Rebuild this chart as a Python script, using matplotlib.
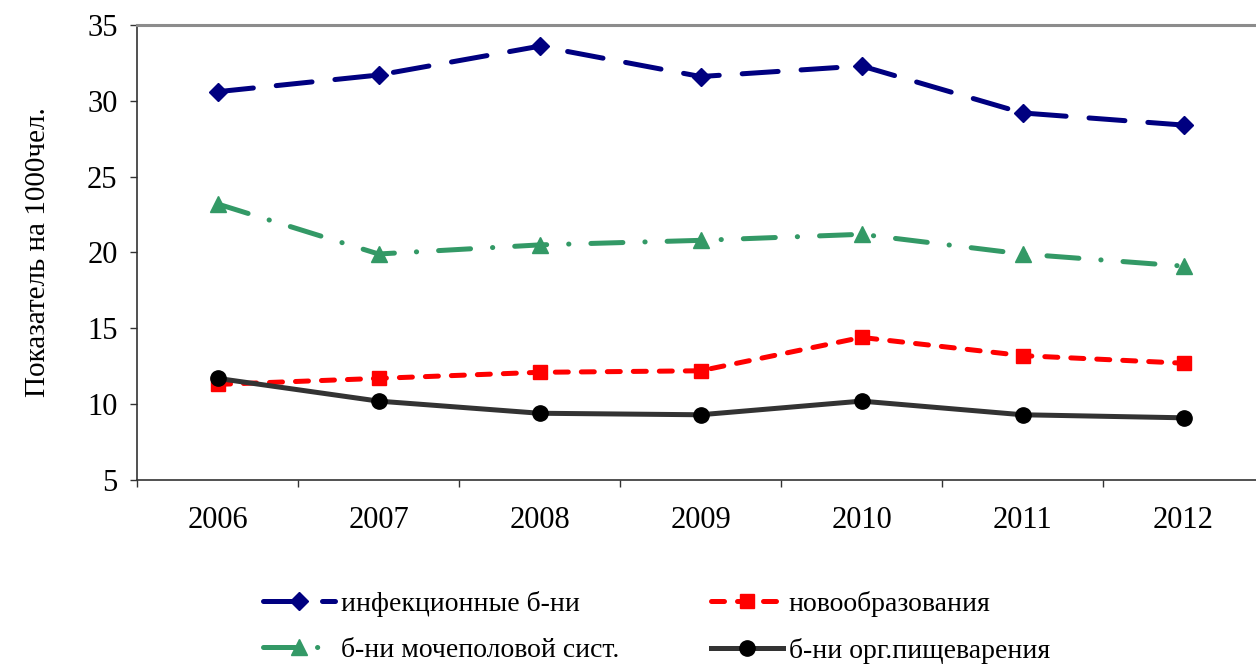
import matplotlib.pyplot as plt
import numpy as np

plt.rcParams['font.family'] = ['Liberation Serif', 'DejaVu Serif']

# Data (per 1000 people)
years = ['2006', '2007', '2008', '2009', '2010', '2011', '2012']
infect = [30.6, 31.7, 33.6, 31.6, 32.3, 29.2, 28.4]
neoplasm = [11.3, 11.7, 12.1, 12.2, 14.4, 13.2, 12.7]
urogen = [23.2, 19.9, 20.5, 20.8, 21.2, 19.9, 19.1]
digest = [11.7, 10.2, 9.4, 9.3, 10.2, 9.3, 9.1]

labels = ['инфекционные б-ни', 'новообразования',
          'б-ни мочеполовой сист.', 'б-ни орг.пищеварения']

fig = plt.figure(figsize=(12.56, 6.66), dpi=100)
ax = fig.add_axes([0.1091, 0.2793, 0.8973, 0.6832])

x = np.arange(len(years))
lw = 3.6

l1, = ax.plot(x, infect, color='#000080', lw=lw, marker='D', ms=9,
              dash_capstyle='round', label=labels[0])
l1.set_dashes((7.2, 4.6))
l2, = ax.plot(x, neoplasm, color='#FF0000', lw=lw, marker='s', ms=10,
              dash_capstyle='round', label=labels[1])
l2.set_dashes((2.6, 2.6))
l3, = ax.plot(x, urogen, color='#339966', lw=lw, marker='^', ms=11,
              dash_capstyle='round', label=labels[2])
l3.set_dashes((6.4, 4.4, 0.05, 4.4))
l4, = ax.plot(x, digest, color='#333333', lw=lw, marker='o', ms=11,
              mfc='black', mec='black', label=labels[3])

ax.set_xlim(-0.5, len(years) - 0.5)
ax.set_ylim(5, 35)
ax.set_yticks(np.arange(5, 36, 5))

# category boundaries get the tick marks, years sit between them
ax.set_xticks(np.arange(-0.5, len(years), 1.0))
ax.set_xticklabels([])
ax.set_xticks(x, minor=True)
ax.set_xticklabels(years, minor=True)
ax.tick_params(axis='x', which='major', direction='out', length=5,
               width=1, color='#333333')
ax.tick_params(axis='x', which='minor', length=0, labelsize=22, pad=19)
ax.tick_params(axis='y', direction='out', length=5, width=1,
               color='#333333', labelsize=22, pad=9)

ax.spines['right'].set_visible(False)
ax.spines['top'].set_color('#8c8c8c')
ax.spines['top'].set_linewidth(2.2)
for s in ('left', 'bottom'):
    ax.spines[s].set_color('#333333')
    ax.spines[s].set_linewidth(1.2)

ax.set_ylabel('Показатель на 1000чел.', fontsize=21, labelpad=26)

# row-wise order: matplotlib fills legend columns top to bottom
fig.legend(handles=[l1, l3, l2, l4], loc='upper left', ncol=2,
           bbox_to_anchor=(263 / 1256, 1 - 591 / 666), frameon=False,
           fontsize=20, borderpad=0, borderaxespad=0,
           handlelength=2.6, handletextpad=0.2, columnspacing=3.3,
           labelspacing=0.74)

fig.savefig('out.png', dpi=100)
